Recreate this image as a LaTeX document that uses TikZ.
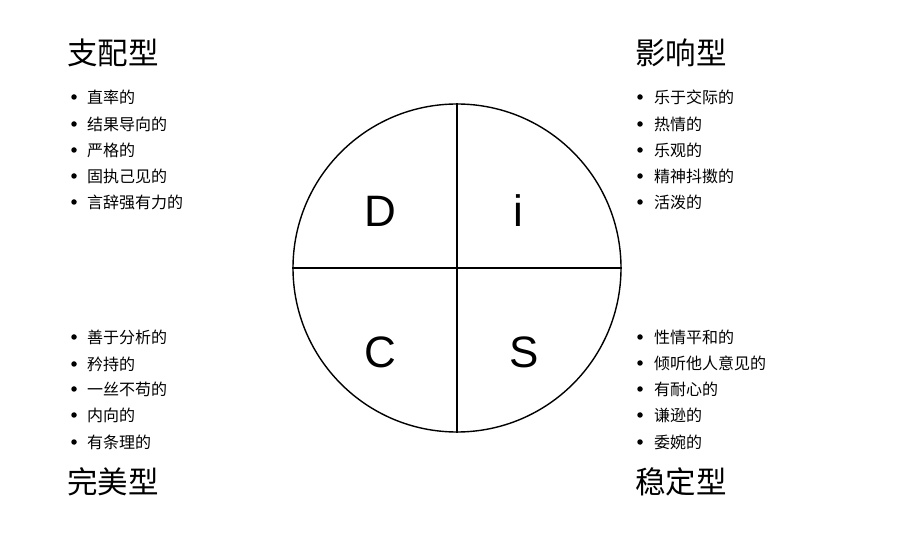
\documentclass[tikz,border=0pt]{standalone}
\usepackage{fontspec}
\setmainfont{Liberation Sans}
\newfontfamily\cjk{Noto Sans CJK SC}
\begin{document}
\begin{tikzpicture}[x=1pt,y=1pt,
  title/.style={anchor=west,inner sep=0pt,font=\cjk\fontsize{30.5}{30.5}\selectfont},
  item/.style={anchor=west,inner sep=0pt,font=\cjk\fontsize{16}{16}\selectfont},
  dot/.style={circle,fill=black,inner sep=0pt,minimum size=5.5pt},
  letter/.style={inner sep=0pt,font=\fontsize{44}{44}\selectfont},
  ring/.style={line width=1.4pt}]
\useasboundingbox (0,0) rectangle (918,533);
\fill[white] (0,0) rectangle (918,533);
% circle
\coordinate (o) at (457,265);
\node[circle,draw,ring,minimum size=328pt,inner sep=0pt] (c) at (o) {};
\draw[ring] (c.north) -- (c.south);
\draw[ring] (c.west) -- (c.east);
\node[letter] (D) at (380,322) {D};
\node[letter] (I) at (518,322) {i};
\node[letter] (C) at (380,181) {C};
\node[letter] (S) at (524,181) {S};
% titles
\node[title] (t1) at (67,480) {支配型};
\node[title] (t2) at (635,480) {影响型};
\node[title] (t3) at (67,51) {完美型};
\node[title] (t4) at (635,51) {稳定型};
% items
\foreach \y/\t [count=\i] in {436/直率的,409/结果导向的,383/严格的,357/固执己见的,331/言辞强有力的}{
  \node[dot] (dl\i) at (74,\y) {};
  \node[item] (tl\i) at (87,\y) {\t};
}
\foreach \y/\t [count=\i] in {436/乐于交际的,409/热情的,383/乐观的,357/精神抖擞的,331/活泼的}{
  \node[dot] (dr\i) at (640,\y) {};
  \node[item] (tr\i) at (654,\y) {\t};
}
\foreach \y/\t [count=\i] in {196/善于分析的,169/矜持的,144/一丝不苟的,118/内向的,91/有条理的}{
  \node[dot] (bl\i) at (74,\y) {};
  \node[item] (btl\i) at (87,\y) {\t};
}
\foreach \y/\t [count=\i] in {196/性情平和的,170/倾听他人意见的,144/有耐心的,118/谦逊的,91/委婉的}{
  \node[dot] (br\i) at (640,\y) {};
  \node[item] (btr\i) at (654,\y) {\t};
}
\end{tikzpicture}
\end{document}
